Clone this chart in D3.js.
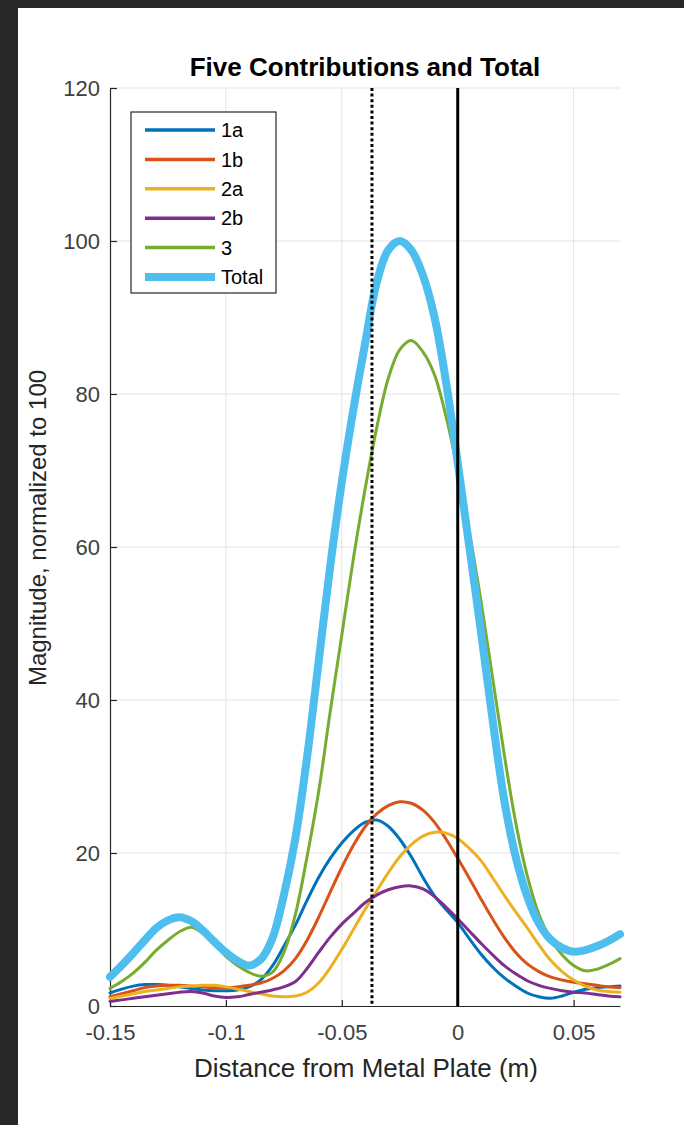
<!DOCTYPE html>
<html>
<head>
<meta charset="utf-8">
<script src="https://cdn.jsdelivr.net/npm/d3@7"></script>
<style>
  body { margin: 0; background: #ffffff; }
  text { font-family: "Liberation Sans", Arial, sans-serif; }
</style>
</head>
<body>
<div id="chart"></div>
<script>
// distance from plate (m)
var distance = [-0.150, -0.145, -0.140, -0.135, -0.130, -0.125, -0.120, -0.115, -0.110, -0.105,
                -0.100, -0.095, -0.090, -0.085, -0.080, -0.075, -0.070, -0.065, -0.060, -0.055,
                -0.050, -0.045, -0.040, -0.035, -0.030, -0.025, -0.020, -0.015, -0.010, -0.005,
                 0.000,  0.005,  0.010,  0.015,  0.020,  0.025,  0.030,  0.035,  0.040,  0.045,
                 0.050,  0.055,  0.060,  0.065,  0.070];

var c1a = [1.7, 2.2, 2.6, 2.8, 2.8, 2.7, 2.5, 2.3, 2.1, 2.0,
           2.0, 2.1, 2.5, 3.4, 5.2, 7.8, 10.6, 13.8, 16.8, 19.3,
           21.3, 22.9, 24.0, 24.3, 23.5, 21.8, 19.5, 16.8, 14.4, 12.6,
           10.9, 8.8, 6.8, 5.1, 3.7, 2.6, 1.7, 1.2, 1.0, 1.3,
           1.8, 2.2, 2.4, 2.5, 2.6];

var c1b = [1.2, 1.6, 2.0, 2.4, 2.6, 2.7, 2.7, 2.6, 2.5, 2.4,
           2.4, 2.5, 2.7, 3.0, 3.6, 4.6, 6.2, 8.6, 11.6, 14.9,
           18.1, 21.0, 23.4, 25.1, 26.2, 26.7, 26.5, 25.6, 24.0, 21.8,
           19.3, 16.7, 14.0, 11.4, 9.0, 7.0, 5.5, 4.5, 3.8, 3.4,
           3.1, 2.9, 2.7, 2.5, 2.4];

var c2a = [1.0, 1.3, 1.6, 1.9, 2.1, 2.3, 2.5, 2.6, 2.7, 2.7,
           2.5, 2.2, 1.9, 1.6, 1.3, 1.2, 1.3, 1.8, 3.0, 5.0,
           7.4, 10.0, 12.6, 15.0, 17.4, 19.5, 21.1, 22.2, 22.7, 22.6,
           21.9, 20.6, 19.0, 16.8, 14.5, 12.3, 10.2, 8.0, 6.0, 4.5,
           3.4, 2.6, 2.1, 1.9, 1.8];

var c2b = [0.6, 0.8, 1.0, 1.2, 1.4, 1.6, 1.8, 1.9, 1.7, 1.3,
           1.1, 1.2, 1.5, 1.8, 2.1, 2.5, 3.2, 4.9, 7.0, 9.0,
           10.7, 12.1, 13.5, 14.5, 15.2, 15.6, 15.7, 15.3, 14.3, 12.9,
           11.4, 9.8, 8.2, 6.7, 5.3, 4.2, 3.3, 2.7, 2.3, 2.0,
           1.8, 1.7, 1.5, 1.3, 1.2];

var c3 = [2.3, 3.2, 4.3, 5.7, 7.3, 8.6, 9.7, 10.3, 9.5, 8.1,
          6.5, 5.3, 4.4, 3.9, 4.4, 7.0, 12.0, 19.5, 28.0, 38.5,
          48.5, 58.5, 67.5, 75.5, 82.0, 85.8, 87.0, 85.5, 82.5, 77.0,
          70.0, 62.0, 53.0, 43.0, 33.0, 24.0, 17.0, 12.0, 8.8, 6.7,
          5.3, 4.6, 4.8, 5.4, 6.2];

var total = [3.8, 5.3, 6.9, 8.6, 10.2, 11.2, 11.6, 11.1, 9.9, 8.4,
             7.0, 5.9, 5.3, 6.1, 8.8, 14.5, 22.0, 32.5, 45.0, 57.5,
             68.5, 78.0, 86.5, 94.5, 98.8, 100.0, 98.8, 95.5, 90.0, 81.5,
             71.0, 60.0, 49.0, 37.5, 27.0, 19.5, 14.3, 10.8, 8.7, 7.6,
             7.1, 7.3, 7.8, 8.5, 9.4];

var seriesNames = ["1a", "1b", "2a", "2b", "3", "Total"];
var seriesColors = ["#0072bd", "#d95319", "#edb120", "#7e2f8e", "#77ac30", "#4dbeee"];

var xTicks = [-0.15, -0.1, -0.05, 0, 0.05];
var xTickLabels = ["-0.15", "-0.1", "-0.05", "0", "0.05"];
var yTicks = [0, 20, 40, 60, 80, 100, 120];
var yTickLabels = ["0", "20", "40", "60", "80", "100", "120"];

// dotted line and solid line (plate)
var markerX = [-0.037, 0];
var markerDash = ["3,2.6", null];

function init() {
    var w = 684;
    var h = 1125;
    var left = 110, right = 620, top = 88, bottom = 1006;

    var svg = d3.select("#chart")
        .append("svg")
        .attr("width", w)
        .attr("height", h);

    // dark edge of the screenshot
    svg.append("rect").attr("x", 0).attr("y", 0).attr("width", w).attr("height", 8).attr("fill", "#282828");
    svg.append("rect").attr("x", 0).attr("y", 0).attr("width", 18).attr("height", h).attr("fill", "#282828");

    var x = d3.scaleLinear().domain([-0.15, 0.07]).range([left, right]);
    var y = d3.scaleLinear().domain([0, 120]).range([bottom, top]);

    // grid
    svg.append("g").selectAll("line")
        .data(xTicks.slice(1))
        .enter()
        .append("line")
        .attr("x1", function(d) { return x(d); })
        .attr("x2", function(d) { return x(d); })
        .attr("y1", top)
        .attr("y2", bottom)
        .attr("stroke", "#e3e3e3")
        .attr("stroke-width", 1);

    svg.append("g").selectAll("line")
        .data(yTicks.slice(1))
        .enter()
        .append("line")
        .attr("x1", left)
        .attr("x2", right)
        .attr("y1", function(d) { return y(d); })
        .attr("y2", function(d) { return y(d); })
        .attr("stroke", "#e3e3e3")
        .attr("stroke-width", 1);

    // axes
    var xAxis = d3.axisBottom(x)
        .tickValues(xTicks)
        .tickFormat(function(d, i) { return xTickLabels[i]; })
        .tickSizeInner(-6)
        .tickSizeOuter(0)
        .tickPadding(18);

    var yAxis = d3.axisLeft(y)
        .tickValues(yTicks)
        .tickFormat(function(d, i) { return yTickLabels[i]; })
        .tickSizeInner(-7)
        .tickSizeOuter(0)
        .tickPadding(10);

    var gx = svg.append("g")
        .attr("transform", "translate(0," + bottom + ")")
        .call(xAxis);
    var gy = svg.append("g")
        .attr("transform", "translate(" + left + ",0)")
        .call(yAxis);

    [gx, gy].forEach(function(g) {
        g.select(".domain").attr("stroke", "#262626").attr("stroke-width", 1.2);
        g.selectAll(".tick line").attr("stroke", "#262626").attr("stroke-width", 1.2);
        g.selectAll(".tick text")
            .attr("fill", "#404040")
            .style("font-size", "22px")
            .style("font-family", "'Liberation Sans', Arial, sans-serif");
    });

    // series
    var allSeries = [c1a, c1b, c2a, c2b, c3, total];
    var line = d3.line()
        .x(function(d, i) { return x(distance[i]); })
        .y(function(d) { return y(d); })
        .curve(d3.curveCatmullRom.alpha(0.5));

    svg.append("g").selectAll("path")
        .data(allSeries)
        .enter()
        .append("path")
        .attr("d", line)
        .attr("fill", "none")
        .attr("stroke", function(d, i) { return seriesColors[i]; })
        .attr("stroke-width", function(d, i) { return i === 5 ? 8 : 3; })
        .attr("stroke-linejoin", "round")
        .attr("stroke-linecap", "round");

    // vertical markers
    svg.append("g").selectAll("line")
        .data(markerX)
        .enter()
        .append("line")
        .attr("x1", function(d) { return x(d); })
        .attr("x2", function(d) { return x(d); })
        .attr("y1", top)
        .attr("y2", bottom)
        .attr("stroke", "#000")
        .attr("stroke-width", 3)
        .attr("stroke-dasharray", function(d, i) { return markerDash[i]; });

    // title and labels
    svg.append("text")
        .attr("x", (left + right) / 2)
        .attr("y", 76)
        .attr("text-anchor", "middle")
        .style("font-size", "26px")
        .style("font-weight", "bold")
        .attr("fill", "#000")
        .text("Five Contributions and Total");

    svg.append("text")
        .attr("x", 366)
        .attr("y", 1077)
        .attr("text-anchor", "middle")
        .style("font-size", "26px")
        .attr("fill", "#262626")
        .text("Distance from Metal Plate (m)");

    svg.append("text")
        .attr("transform", "translate(46,528) rotate(-90)")
        .attr("text-anchor", "middle")
        .style("font-size", "24px")
        .attr("fill", "#262626")
        .text("Magnitude, normalized to 100");

    // legend
    var lg = svg.append("g");
    lg.append("rect")
        .attr("x", 131)
        .attr("y", 112)
        .attr("width", 145)
        .attr("height", 181)
        .attr("fill", "#fff")
        .attr("stroke", "#262626")
        .attr("stroke-width", 1.2);

    var rows = lg.selectAll("g.row")
        .data(seriesNames)
        .enter()
        .append("g")
        .attr("class", "row")
        .attr("transform", function(d, i) { return "translate(0," + (130 + i * 29.4) + ")"; });

    rows.append("line")
        .attr("x1", 145)
        .attr("x2", 215)
        .attr("y1", 0)
        .attr("y2", 0)
        .attr("stroke", function(d, i) { return seriesColors[i]; })
        .attr("stroke-width", function(d, i) { return i === 5 ? 8 : 3.5; });

    rows.append("text")
        .attr("x", 221)
        .attr("y", 0)
        .attr("dy", "0.36em")
        .style("font-size", "20px")
        .attr("fill", "#000")
        .text(function(d) { return d; });
}

window.onload = init;
</script>
</body>
</html>
